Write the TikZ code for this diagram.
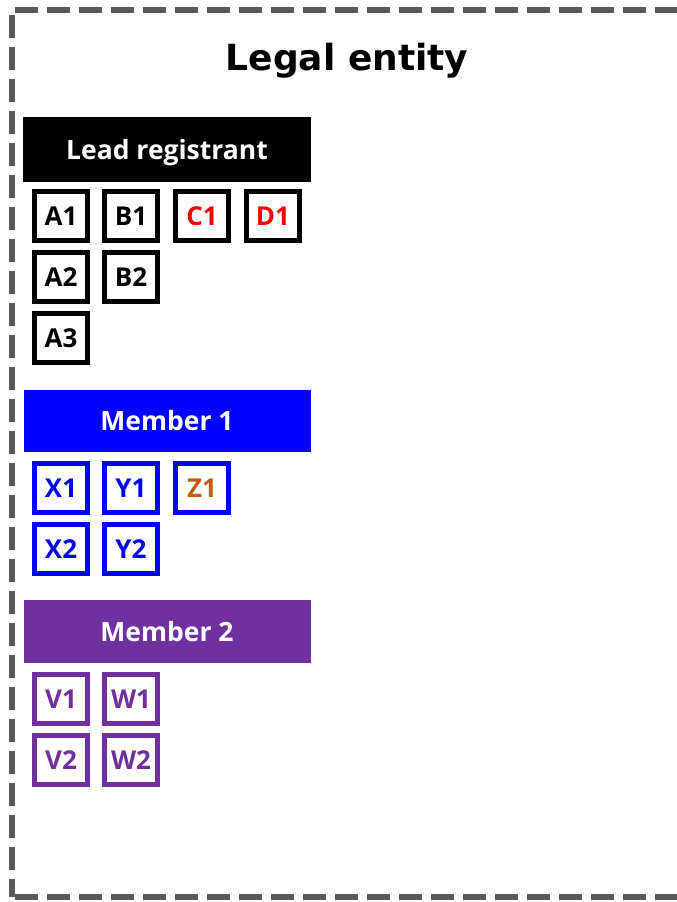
\documentclass[tikz,border=0pt]{standalone}
\usepackage{fontspec}
\setmainfont{Open Sans}
\newfontfamily\titlefont{DejaVu Sans}
\definecolor{memberblue}{RGB}{0,0,255}
\definecolor{memberpurple}{RGB}{112,48,160}
\definecolor{substred}{RGB}{255,0,0}
\definecolor{substorange}{RGB}{197,90,17}
\definecolor{framegray}{RGB}{89,89,89}

\begin{document}
\begin{tikzpicture}[x=1pt, y=-1pt,
    bar/.style={minimum width=287pt, minimum height=63pt, inner sep=0pt, text=white,
        text height=19pt, text depth=0pt, font=\fontsize{26.5}{30}\selectfont\bfseries},
    sub/.style={draw, line width=5pt, minimum width=53pt, minimum height=49pt, inner sep=0pt,
        text height=18.5pt, text depth=0pt, font=\fontsize{26}{30}\selectfont\bfseries},
    frame/.style={framegray, line width=6pt, dash pattern=on 23pt off 9pt}]
    \useasboundingbox (0,0) rectangle (677,902);
    \clip (0,0) rectangle (677,902);
    \draw[frame] (12,15) -- (12,897);
    \draw[frame] (15,10) -- (690,10);
    \draw[frame] (15,897) -- (690,897);

    \node (title) [anchor=base, font=\titlefont\fontsize{36}{40}\selectfont\bfseries] at (347,70) {Legal entity};

    \node (lead) [bar, fill=black, minimum width=288pt, minimum height=65pt] at (167,149.5) {Lead registrant};
    \node (A1) [sub] at (61,216) {A1};
    \node (B1) [sub] at (131,216) {B1};
    \node (C1) [sub, text=substred] at (202,216) {C1};
    \node (D1) [sub, text=substred] at (273,216) {D1};
    \node (A2) [sub] at (61,277) {A2};
    \node (B2) [sub] at (131,277) {B2};
    \node (A3) [sub] at (61,338) {A3};

    \node (member1) [bar, fill=memberblue, minimum height=62pt] at (167,421) {Member 1};
    \node (X1) [sub, memberblue] at (61,488) {X1};
    \node (Y1) [sub, memberblue] at (131,488) {Y1};
    \node (Z1) [sub, draw=memberblue, text=substorange] at (202,488) {Z1};
    \node (X2) [sub, memberblue] at (61,549) {X2};
    \node (Y2) [sub, memberblue] at (131,549) {Y2};

    \node (member2) [bar, fill=memberpurple] at (167,631.5) {Member 2};
    \node (V1) [sub, memberpurple] at (61,699) {V1};
    \node (W1) [sub, memberpurple] at (131,699) {W1};
    \node (V2) [sub, memberpurple] at (61,760) {V2};
    \node (W2) [sub, memberpurple] at (131,760) {W2};
\end{tikzpicture}
\end{document}
